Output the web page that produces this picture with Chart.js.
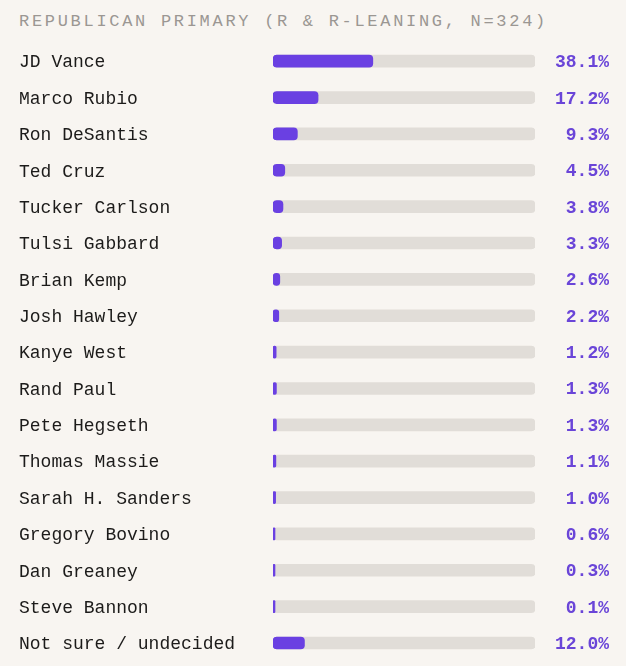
<!DOCTYPE html>
<html>
<head>
<meta charset="utf-8">
<script src="https://cdn.jsdelivr.net/npm/chart.js@4.4.1/dist/chart.umd.min.js"></script>
<style>
  html, body { margin: 0; padding: 0; background: #f8f5f1; overflow: hidden; }
  #wrap { position: relative; width: 626px; height: 666px; overflow: hidden; }
  #title {
    position: absolute; left: 19px; top: 12px;
    font-family: "Liberation Mono", "DejaVu Sans Mono", monospace;
    font-size: 17px; letter-spacing: 2.7px; color: #9b9793;
    white-space: nowrap;
  }
  /* sedikit lebih tinggi dari kanvas agar ruang label bawah terpotong */
  #chart-box { position: absolute; left: 0; top: 0; width: 626px; height: 672px; }
</style>
</head>
<body>
<div id="wrap">
  <div id="title">REPUBLICAN PRIMARY (R &amp; R-LEANING, N=324)</div>
  <div id="chart-box"><canvas id="primaryChart"></canvas></div>
</div>
<script>
// Kandidat dan persentase dukungan.
const candidates = [
    'JD Vance', 'Marco Rubio', 'Ron DeSantis', 'Ted Cruz', 'Tucker Carlson',
    'Tulsi Gabbard', 'Brian Kemp', 'Josh Hawley', 'Kanye West', 'Rand Paul',
    'Pete Hegseth', 'Thomas Massie', 'Sarah H. Sanders', 'Gregory Bovino',
    'Dan Greaney', 'Steve Bannon', 'Not sure / undecided'
];
const support = [38.1, 17.2, 9.3, 4.5, 3.8, 3.3, 2.6, 2.2, 1.2, 1.3, 1.3, 1.1, 1.0, 0.6, 0.3, 0.1, 12.0];
const trackValues = candidates.map(() => 100);
const valueLabels = support.map(v => v.toFixed(1) + '%');

const PURPLE = '#6a40e2';
const TRACK = '#e1ddd8';
const MONO = '"Liberation Mono", "DejaVu Sans Mono", monospace';

document.addEventListener('DOMContentLoaded', () => {
    const ctx = document.getElementById('primaryChart').getContext('2d');

    new Chart(ctx, {
        type: 'bar',
        data: {
            labels: candidates,
            datasets: [
                {
                    // batang nilai, digambar di atas track
                    label: 'Support',
                    data: support,
                    backgroundColor: PURPLE,
                    borderRadius: 4,
                    borderSkipped: false,
                    barThickness: 12,
                    minBarLength: 2,
                    grouped: false,
                    order: 0
                },
                {
                    label: 'Track',
                    data: trackValues,
                    backgroundColor: TRACK,
                    borderRadius: 4,
                    borderSkipped: false,
                    barThickness: 12,
                    grouped: false,
                    order: 1
                }
            ]
        },
        options: {
            indexAxis: 'y',
            responsive: true,
            maintainAspectRatio: false,
            animation: false,
            layout: { padding: { top: 43, bottom: 0, left: 19, right: 17 } },
            plugins: {
                legend: { display: false },
                tooltip: { enabled: false }
            },
            scales: {
                x: {
                    min: 0,
                    max: 100,
                    display: false
                },
                y: {
                    grid: { display: false },
                    border: { display: false },
                    ticks: {
                        crossAlign: 'far',
                        color: '#1c1b1a',
                        font: { family: MONO, size: 18 },
                        padding: 0,
                        labelOffset: 1.5
                    },
                    afterFit: (s) => { s.width = 273 - 19; }
                },
                yValues: {
                    type: 'category',
                    position: 'right',
                    labels: valueLabels,
                    offset: true,
                    grid: { display: false },
                    border: { display: false },
                    ticks: {
                        crossAlign: 'far',
                        color: '#6a45d8',
                        font: { family: MONO, size: 18, weight: 'bold' },
                        padding: 0,
                        labelOffset: 1.5
                    },
                    afterFit: (s) => { s.width = 609 - 535; }
                }
            }
        }
    });
});
</script>
</body>
</html>
